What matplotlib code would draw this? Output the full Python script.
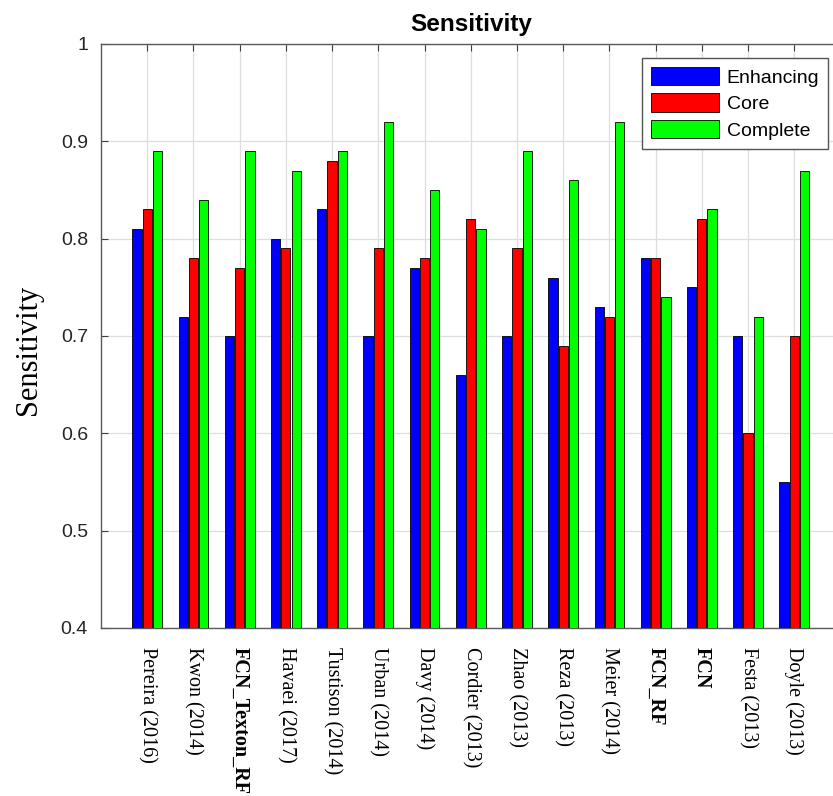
import matplotlib
matplotlib.use("Agg")
import matplotlib.pyplot as plt
import numpy as np

# Sensitivity per method for the three tumour regions
methods = [
    "Pereira (2016)", "Kwon (2014)", "FCN_Texton_RF", "Havaei (2017)",
    "Tustison (2014)", "Urban (2014)", "Davy (2014)", "Cordier (2013)",
    "Zhao (2013)", "Reza (2013)", "Meier (2014)", "FCN_RF", "FCN",
    "Festa (2013)", "Doyle (2013)",
]
enhancing = [0.81, 0.72, 0.70, 0.80, 0.83, 0.70, 0.77, 0.66, 0.70, 0.76, 0.73, 0.78, 0.75, 0.70, 0.55]
core      = [0.83, 0.78, 0.77, 0.79, 0.88, 0.79, 0.78, 0.82, 0.79, 0.69, 0.72, 0.78, 0.82, 0.60, 0.70]
complete  = [0.89, 0.84, 0.89, 0.87, 0.89, 0.92, 0.85, 0.81, 0.89, 0.86, 0.92, 0.74, 0.83, 0.72, 0.87]
series_names = ["Enhancing", "Core", "Complete"]
series_colors = ["#0000ff", "#ff0000", "#00ff00"]
bold_methods = {"FCN_Texton_RF", "FCN_RF", "FCN"}
y_ticks = [0.4, 0.5, 0.6, 0.7, 0.8, 0.9, 1.0]
y_tick_labels = ["0.4", "0.5", "0.6", "0.7", "0.8", "0.9", "1"]

W, H = 833, 796
fig = plt.figure(figsize=(W / 100, H / 100), dpi=100)
ax = fig.add_axes([101 / W, 168 / H, 739.5 / W, 584 / H])

x = np.arange(1, len(methods) + 1)
offset = 0.222
width = 0.2
for k, (vals, col, name) in enumerate(zip([enhancing, core, complete], series_colors, series_names)):
    ax.bar(x + (k - 1) * offset, vals, width, color=col, edgecolor="black",
           linewidth=0.6, label=name, zorder=3)

ax.set_xlim(0, 16)
ax.set_ylim(0.4, 1.0)
ax.set_yticks(y_ticks)
ax.set_yticklabels(y_tick_labels, family="Liberation Sans", fontsize=14, color="#262626")
ax.set_xticks(x)
ax.set_xticklabels(methods, rotation=-90, family="Liberation Serif", fontsize=14.5,
                   color="black", ha="center", va="top")
for lbl in ax.get_xticklabels():
    if lbl.get_text() in bold_methods:
        lbl.set_fontweight("bold")

ax.tick_params(direction="in", top=True, right=True, length=5, width=0.8, color="#404040")
ax.tick_params(axis="x", pad=14)
ax.tick_params(axis="y", pad=9.4)

ax.grid(True, color="#dedede", linewidth=0.9, zorder=0)
ax.set_axisbelow(True)
for sp in ax.spines.values():
    sp.set_color("#5a5a5a")
    sp.set_linewidth(1.0)

ax.set_title("Sensitivity", family="Liberation Sans", fontweight="bold",
             fontsize=17.5, pad=9)
ax.set_ylabel("Sensitivity", family="Liberation Serif", fontsize=22)
ax.yaxis.set_label_coords(-0.078, 0.477)

leg = ax.legend(loc="upper left", bbox_to_anchor=(642 / W, 1 - 58 / H),
                bbox_transform=fig.transFigure, prop={"family": "Liberation Sans", "size": 14},
                handlelength=3.5, handleheight=1.08, handletextpad=0.4,
                labelspacing=0.35, borderpad=0.45, borderaxespad=0,
                fancybox=False, framealpha=1, edgecolor="#555555")
leg.get_frame().set_linewidth(1.0)

fig.savefig("out.png", dpi=100)
